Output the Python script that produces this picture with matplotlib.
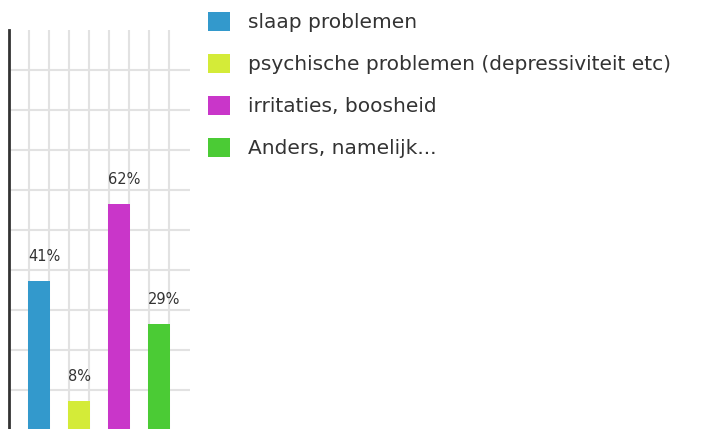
import matplotlib
matplotlib.use("Agg")
import matplotlib.pyplot as plt

# answers and their share of respondents (%)
categories = ["slaap problemen", "psychische problemen (depressiviteit etc)",
              "irritaties, boosheid", "Anders, namelijk..."]
percentages = [41, 8, 62, 29]
labels = ["41%", "8%", "62%", "29%"]
colors = ["#3399cc", "#d4eb38", "#c936c9", "#4bcb35"]

W, H = 713, 429
fig = plt.figure(figsize=(W / 100, H / 100), dpi=100)
# plot area: left axis at x=9px, top at y=30px, baseline just below the bottom edge
ax = fig.add_axes([9 / W, -1.4 / H, 181 / W, 400.4 / H])

ymax = 109.6
step = ymax / 10
ax.set_xlim(0, 9.05)
ax.set_ylim(0, ymax)

xpos = [1.5, 3.5, 5.5, 7.5]
bars = []
for x, v, c, name in zip(xpos, percentages, colors, categories):
    b = ax.bar(x, v, width=1.1, color=c, label=name, zorder=3)
    bars.append(b)

for x, v, t in zip(xpos, percentages, labels):
    ax.text(x - 0.55, v + 6.7, t, ha="left", va="center",
            fontsize=10.5, color="#333333", zorder=4)

# grid
ax.set_xticks(range(1, 9))
ax.set_yticks([step * k for k in range(1, 10)])
ax.grid(True, color="#e2e2e2", linewidth=1.5, zorder=0)
ax.tick_params(left=False, bottom=False, labelleft=False, labelbottom=False)
for s in ["top", "right", "bottom"]:
    ax.spines[s].set_visible(False)
ax.spines["left"].set_color("#333333")
ax.spines["left"].set_linewidth(2)

fs = 14.5
fpx = fs * 100 / 72
leg = fig.legend(handles=[b[0] for b in bars], labels=categories,
                 loc="upper left", bbox_to_anchor=(208 / W, 1 - 12 / H),
                 frameon=False, fontsize=fs, borderpad=0, borderaxespad=0,
                 handlelength=22 / fpx, handleheight=22 / fpx,
                 handletextpad=18 / fpx, labelspacing=21.5 / fpx)
for t in leg.get_texts():
    t.set_color("#333333")

fig.savefig("out.png", dpi=100)
